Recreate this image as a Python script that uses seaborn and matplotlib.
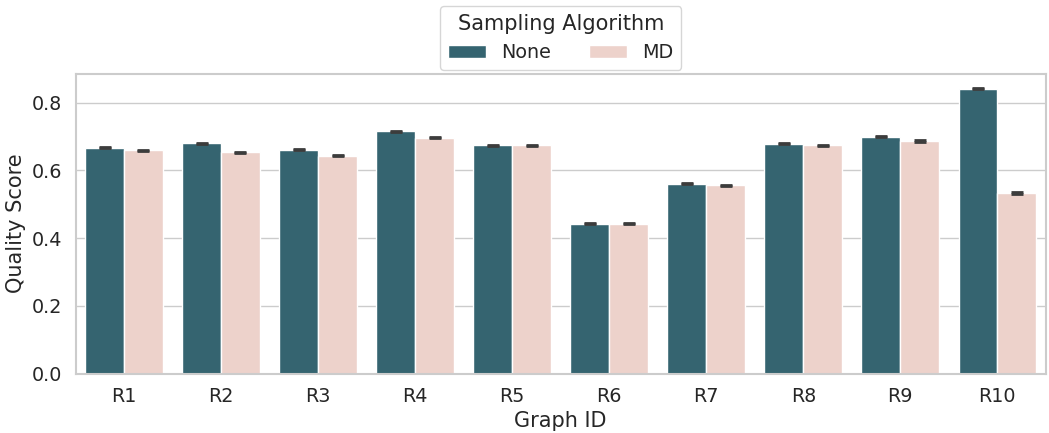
import matplotlib
matplotlib.use("Agg")
import matplotlib.pyplot as plt
import seaborn as sns
import pandas as pd
import numpy as np

graph_ids = ["R1", "R2", "R3", "R4", "R5", "R6", "R7", "R8", "R9", "R10"]
none_scores = [0.667, 0.681, 0.661, 0.716, 0.674, 0.443, 0.561, 0.679, 0.700, 0.841]
md_scores = [0.659, 0.654, 0.644, 0.697, 0.674, 0.443, 0.556, 0.674, 0.687, 0.533]
none_err = [0.0015, 0.0015, 0.0015, 0.0015, 0.0015, 0.0015, 0.0015, 0.0015, 0.0015, 0.0015]
md_err = [0.0015, 0.0015, 0.002, 0.0015, 0.0015, 0.0015, 0.0015, 0.0015, 0.0015, 0.002]
algorithms = ["None", "MD"]
colors = ["#356470", "#edd2cb"]

sns.set_theme(style="whitegrid", font_scale=1.25)

df = pd.DataFrame({
    "Graph ID": graph_ids * 2,
    "Quality Score": none_scores + md_scores,
    "Sampling Algorithm": [algorithms[0]] * len(graph_ids) + [algorithms[1]] * len(graph_ids),
})

fig, ax = plt.subplots(figsize=(10.49, 4.33), dpi=100)
sns.barplot(data=df, x="Graph ID", y="Quality Score", hue="Sampling Algorithm",
            palette=colors, saturation=1, errorbar=None, ax=ax)

errs = none_err + md_err
vals = none_scores + md_scores
bars = [p for p in ax.patches if p.get_height() > 0][:len(vals)]
for bar, v, e in zip(bars, vals, errs):
    cx = bar.get_x() + bar.get_width() / 2
    ax.errorbar(cx, v, yerr=e, fmt="none", ecolor="#3c3c3c", elinewidth=2.0,
                capsize=4.3, capthick=2.0)

ax.set_xlim(-0.5, len(graph_ids) - 0.5)
ax.set_ylim(0, 0.886)
for s in ax.spines.values():
    s.set_color("#cccccc")
    s.set_linewidth(1.5)

sns.move_legend(ax, "lower center", bbox_to_anchor=(0.5, 0.98), ncol=2,
                title="Sampling Algorithm", frameon=True)

fig.subplots_adjust(left=0.072, right=0.997, top=0.83, bottom=0.137)
fig.savefig("out.png", dpi=100)
